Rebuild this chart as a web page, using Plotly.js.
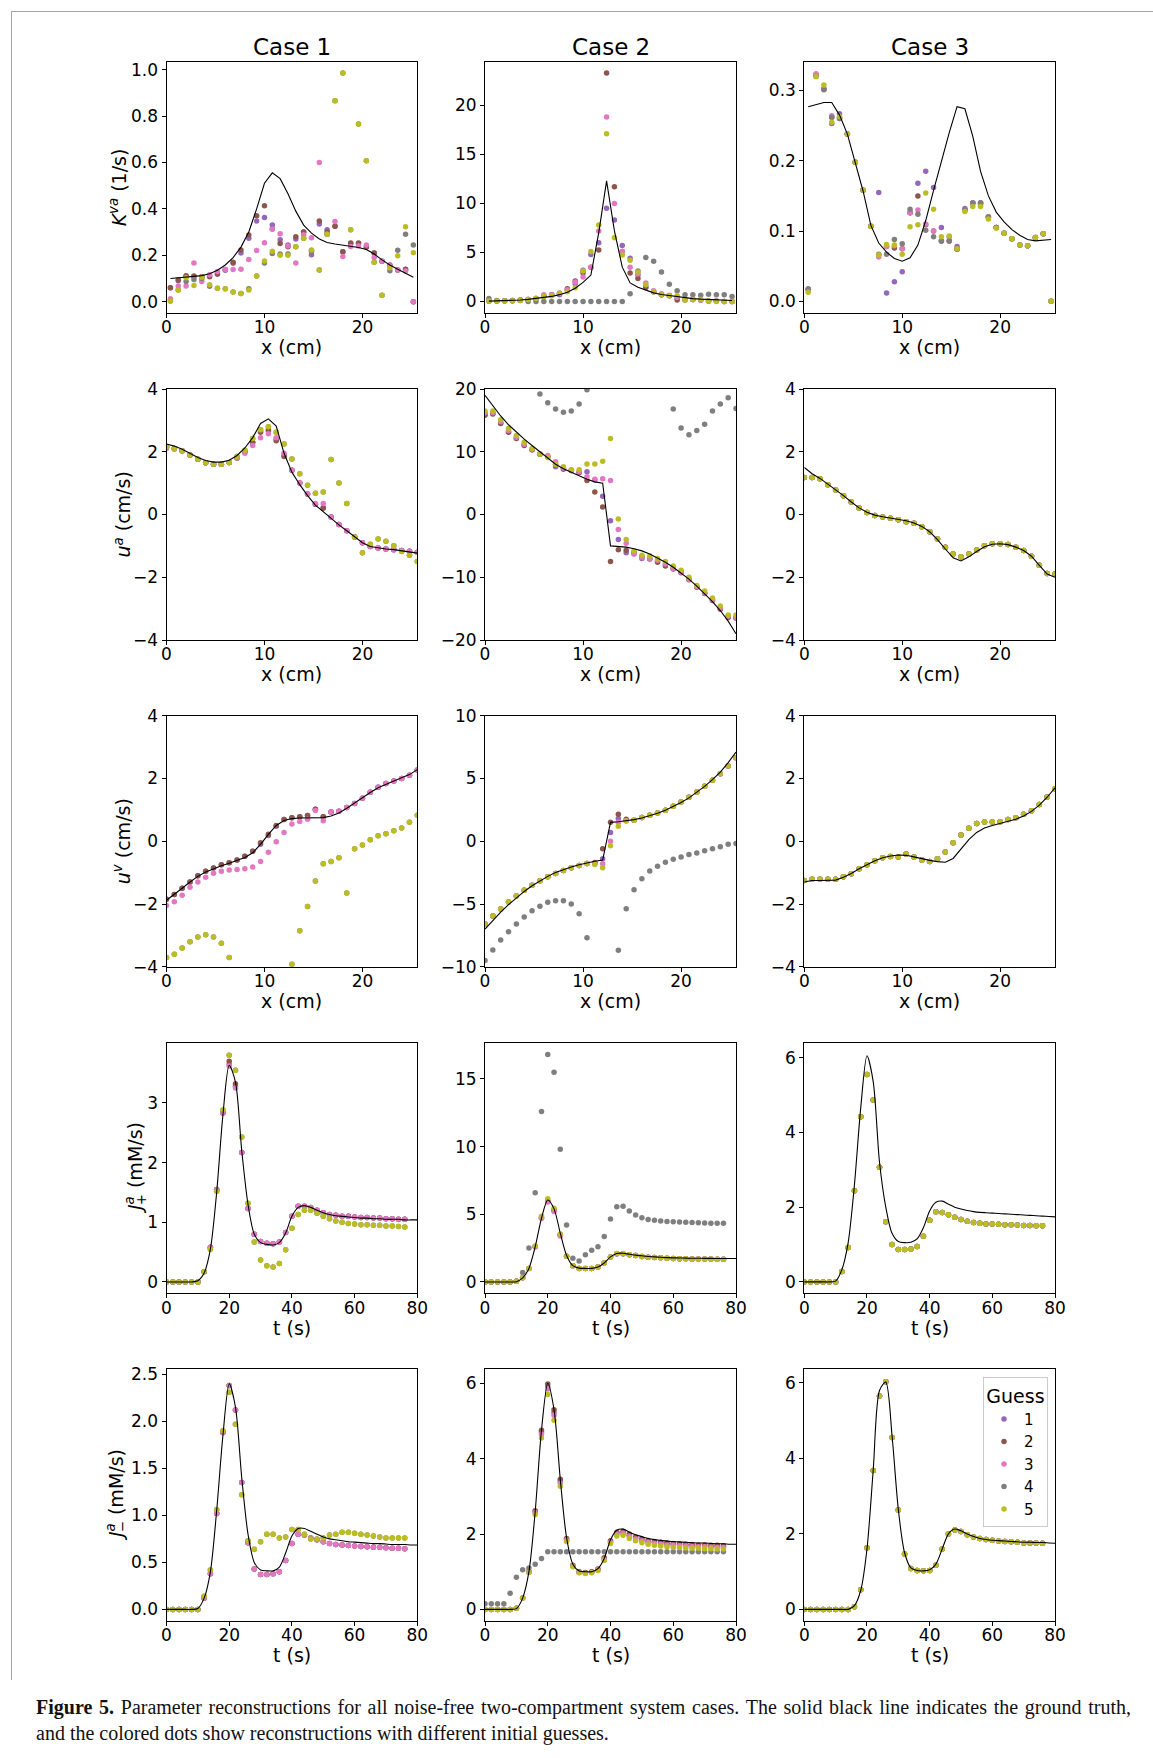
<!DOCTYPE html>
<html>
<head>
<meta charset="utf-8">
<script src="https://cdn.plot.ly/plotly-3.0.1.min.js"></script>
<style>
  html, body { margin: 0; padding: 0; background: #ffffff; }
  #wrap { position: relative; width: 1153px; height: 1758px; overflow: hidden; background: #ffffff; }
  #chart { position: absolute; left: 0; top: 0; width: 1153px; height: 1758px; }
  #frame { position: absolute; left: 11px; top: 11px; width: 1142px; height: 1668px;
           border-left: 1px solid #a6a6a6; border-top: 1px solid #a6a6a6; pointer-events: none; }
  .cap { position: absolute; left: 36px; width: 1095px; font-family: 'Liberation Serif', 'Times New Roman', serif;
         font-size: 20px; line-height: 26px; color: #111111; }
  #cap1 { top: 1694px; text-align: justify; text-align-last: justify; }
  #cap2 { top: 1720px; text-align: left; }
</style>
</head>
<body>
<div id="wrap">
  <div id="chart"></div>
  <div id="frame"></div>
  <div class="cap" id="cap1"><b>Figure 5.</b> Parameter reconstructions for all noise-free two-compartment system cases. The solid black line indicates the ground truth,</div>
  <div class="cap" id="cap2">and the colored dots show reconstructions with different initial guesses.</div>
</div>
<script>
// ---------- sample grids ----------
const xCenters = [0.4,1.2,2.0,2.8,3.6,4.4,5.2,6.0,6.8,7.6,8.4,9.2,10.0,10.8,11.6,12.4,13.2,14.0,14.8,15.6,16.4,17.2,18.0,18.8,19.6,20.4,21.2,22.0,22.8,23.6,24.4,25.2];
const xFaces = [0,0.8,1.6,2.4,3.2,4.0,4.8,5.6,6.4,7.2,8.0,8.8,9.6,10.4,11.2,12.0,12.8,13.6,14.4,15.2,16.0,16.8,17.6,18.4,19.2,20.0,20.8,21.6,22.4,23.2,24.0,24.8,25.6];
const tSamples = [0,2,4,6,8,10,12,14,16,18,20,22,24,26,28,30,32,34,36,38,40,42,44,46,48,50,52,54,56,58,60,62,64,66,68,70,72,74,76];
const tTruth = [0,2,4,6,8,10,12,14,16,18,20,22,24,26,28,30,32,34,36,38,40,42,44,46,48,50,52,54,56,58,60,62,64,66,68,70,72,74,76,78,80];

const caseTitles = ['Case 1', 'Case 2', 'Case 3'];
const guessNames = ['1', '2', '3', '4', '5'];
// the superscript is given negative letter spacing so the subscript sits beneath it
const rowLabels = [
  '<i>K</i><sup><i>va</i></sup> (1/s)',
  '<i>u</i><sup><i>a</i></sup> (cm/s)',
  '<i>u</i><sup><i>v</i></sup> (cm/s)',
  '<i>J</i><sup><span style="letter-spacing:-9px"><i>a</i></span></sup><sub>+</sub> (mM/s)',
  '<i>J</i><sup><span style="letter-spacing:-9px"><i>a</i></span></sup><sub>\u2212</sub> (mM/s)'
];
const xLabelSpace = 'x (cm)';
const xLabelTime = 't (s)';

// ---------- tick labels ----------
const xTicksSpace = [0, 10, 20];
const xTicksTime = [0, 20, 40, 60, 80];
const yTicksKva1 = [0.0, 0.2, 0.4, 0.6, 0.8, 1.0];
const yTicksKva2 = [0, 5, 10, 15, 20];
const yTicksKva3 = [0.0, 0.1, 0.2, 0.3];
const yTicksU4 = [-4, -2, 0, 2, 4];
const yTicksUa2 = [-20, -10, 0, 10, 20];
const yTicksUv2 = [-10, -5, 0, 5, 10];
const yTicksJp1 = [0, 1, 2, 3];
const yTicksJp2 = [0, 5, 10, 15];
const yTicksJ6 = [0, 2, 4, 6];
const yTicksJm1 = [0.0, 0.5, 1.0, 1.5, 2.0, 2.5];

// ---------- K^va, case 1 ----------
const kva1Truth = [0.100,0.103,0.106,0.108,0.112,0.120,0.135,0.158,0.190,0.235,0.300,0.400,0.510,0.555,0.530,0.465,0.390,0.330,0.295,0.270,0.255,0.248,0.243,0.240,0.233,0.225,0.205,0.180,0.158,0.140,0.122,0.105];
const kva1G1 = [0.060,0.090,0.108,0.108,0.106,0.112,0.118,0.135,0.165,0.210,0.273,0.347,0.363,0.330,0.267,0.244,0.270,0.300,0.202,0.335,0.310,0.325,0.215,0.250,0.250,0.235,0.210,0.174,0.155,0.136,0.138,0.000];
const kva1G2 = [0.060,0.093,0.112,0.110,0.107,0.107,0.120,0.138,0.170,0.222,0.287,0.370,0.413,0.313,0.250,0.237,0.280,0.300,0.220,0.347,0.300,0.325,0.215,0.253,0.253,0.235,0.210,0.174,0.158,0.136,0.140,0.000];
const kva1G3 = [0.012,0.067,0.067,0.166,0.087,0.116,0.130,0.138,0.138,0.140,0.182,0.220,0.254,0.313,0.293,0.240,0.166,0.288,0.275,0.600,0.290,0.345,0.194,0.238,0.240,0.244,0.190,0.174,0.155,0.136,0.132,0.000];
const kva1G4 = [0.003,0.050,0.087,0.095,0.100,0.066,0.058,0.055,0.042,0.035,0.055,0.110,0.166,0.207,0.205,0.205,0.237,0.273,0.215,0.136,0.290,0.866,0.985,0.310,0.766,0.607,0.170,0.027,0.133,0.221,0.290,0.244];
const kva1G5 = [0.003,0.050,0.103,0.070,0.105,0.073,0.058,0.055,0.042,0.035,0.050,0.110,0.175,0.217,0.200,0.200,0.237,0.273,0.222,0.136,0.290,0.866,0.985,0.310,0.766,0.607,0.170,0.027,0.146,0.198,0.323,0.211];

// ---------- K^va, case 2 ----------
const kva2Truth = [0.04,0.06,0.09,0.12,0.16,0.22,0.30,0.40,0.52,0.70,0.95,1.35,1.95,2.70,7.00,12.30,7.20,3.50,1.90,1.45,1.15,0.88,0.72,0.60,0.48,0.38,0.30,0.24,0.19,0.15,0.12,0.10];
const kva2G1 = [0.05,0.05,0.08,0.10,0.15,0.20,0.30,0.55,0.70,0.70,1.20,1.80,3.20,4.80,6.00,9.50,8.30,5.70,4.40,2.70,1.40,1.00,0.70,0.60,0.30,0.20,0.20,0.15,0.05,0.05,0.00,0.00];
const kva2G2 = [0.05,0.05,0.08,0.10,0.15,0.20,0.30,0.55,0.70,0.85,1.30,2.10,2.90,3.50,5.25,23.30,11.70,5.10,2.90,2.35,1.50,1.00,0.70,0.60,0.15,0.15,0.20,0.15,0.05,0.05,0.00,0.00];
const kva2G3 = [0.05,0.05,0.08,0.10,0.15,0.20,0.30,0.70,0.70,0.85,1.20,2.00,2.50,3.50,7.20,18.80,10.00,5.10,3.50,2.80,1.90,1.10,0.80,0.65,0.40,0.20,0.20,0.15,0.05,0.05,0.00,0.00];
const kva2G4 = [0.30,0.10,0.05,0.05,0.10,0.00,0.00,0.00,0.00,0.00,0.00,0.00,0.00,0.00,0.00,0.00,0.00,0.00,0.80,3.10,4.50,4.10,3.00,1.75,1.10,0.70,0.70,0.65,0.75,0.70,0.70,0.50];
const kva2G5 = [0.05,0.05,0.05,0.07,0.10,0.20,0.30,0.50,0.60,0.85,1.00,1.40,3.10,5.10,7.80,17.10,6.50,4.75,4.20,3.00,1.70,1.00,0.70,0.60,0.60,0.15,0.20,0.20,0.05,0.00,0.00,0.00];

// ---------- K^va, case 3 ----------
const kva3Truth = [0.277,0.280,0.283,0.283,0.265,0.238,0.198,0.157,0.108,0.083,0.070,0.061,0.057,0.062,0.080,0.115,0.158,0.200,0.240,0.277,0.274,0.235,0.185,0.150,0.127,0.113,0.102,0.094,0.088,0.086,0.087,0.088];
const kva3G1 = [0.017,0.322,0.302,0.253,0.267,0.238,0.198,0.158,0.107,0.155,0.012,0.028,0.042,0.126,0.168,0.185,0.162,0.105,0.092,0.078,0.132,0.140,0.140,0.120,0.105,0.097,0.089,0.080,0.079,0.091,0.096,0.000];
const kva3G2 = [0.017,0.322,0.302,0.262,0.260,0.238,0.198,0.158,0.107,0.066,0.078,0.076,0.075,0.126,0.150,0.109,0.100,0.086,0.086,0.074,0.130,0.140,0.140,0.120,0.105,0.097,0.089,0.080,0.079,0.091,0.096,0.000];
const kva3G3 = [0.017,0.324,0.302,0.264,0.262,0.238,0.198,0.158,0.107,0.063,0.078,0.079,0.075,0.126,0.130,0.110,0.100,0.086,0.086,0.074,0.130,0.140,0.138,0.120,0.105,0.097,0.089,0.080,0.079,0.091,0.096,0.000];
const kva3G4 = [0.018,0.320,0.301,0.262,0.260,0.238,0.198,0.158,0.107,0.067,0.067,0.088,0.082,0.131,0.124,0.101,0.092,0.086,0.086,0.074,0.130,0.140,0.140,0.120,0.105,0.097,0.089,0.080,0.079,0.091,0.096,0.000];
const kva3G5 = [0.013,0.320,0.308,0.255,0.263,0.238,0.198,0.158,0.107,0.066,0.081,0.080,0.067,0.106,0.109,0.154,0.131,0.092,0.093,0.075,0.128,0.135,0.135,0.117,0.104,0.097,0.089,0.080,0.079,0.091,0.096,0.000];

// ---------- u^a, case 1 ----------
const ua1Truth = [2.25,2.18,2.08,1.95,1.82,1.72,1.67,1.67,1.73,1.88,2.12,2.45,2.90,3.05,2.82,1.95,1.35,0.95,0.60,0.30,0.08,-0.12,-0.33,-0.52,-0.72,-0.90,-1.02,-1.07,-1.10,-1.12,-1.15,-1.18,-1.23];
const ua1G1 = [2.15,2.10,2.03,1.90,1.76,1.65,1.60,1.60,1.66,1.80,2.00,2.30,2.65,2.65,2.40,1.90,1.41,1.00,0.65,0.33,0.22,-0.08,-0.32,-0.52,-0.72,-0.90,-1.02,-1.07,-1.10,-1.12,-1.15,-1.17,-1.20];
const ua1G2 = [2.15,2.10,2.03,1.90,1.76,1.65,1.60,1.60,1.66,1.80,2.00,2.30,2.62,2.70,2.35,1.85,1.41,1.00,0.65,0.33,0.20,-0.08,-0.32,-0.52,-0.72,-0.90,-1.02,-1.07,-1.10,-1.12,-1.15,-1.17,-1.20];
const ua1G3 = [2.10,2.08,2.02,1.90,1.76,1.65,1.60,1.60,1.66,1.80,1.95,2.20,2.45,2.57,2.45,1.95,1.41,1.00,0.65,0.35,0.35,-0.08,-0.32,-0.52,-0.72,-0.90,-1.02,-1.07,-1.10,-1.12,-1.15,-1.17,-1.20];
const ua1G4 = [2.15,2.10,2.03,1.90,1.76,1.65,1.60,1.60,1.66,1.85,2.05,2.42,2.70,2.80,2.62,2.25,1.77,1.30,0.93,0.68,0.72,1.75,1.00,0.35,-0.72,-1.22,-0.95,-0.78,-0.85,-1.00,-1.18,-1.30,-1.50];
const ua1G5 = [2.15,2.10,2.03,1.90,1.76,1.65,1.60,1.60,1.66,1.85,2.05,2.42,2.70,2.80,2.62,2.25,1.77,1.30,0.93,0.68,0.72,1.75,1.00,0.35,-0.72,-1.22,-0.95,-0.78,-0.85,-1.00,-1.18,-1.30,-1.50];

// ---------- u^a, case 2 ----------
const ua2Truth = [19.0,17.3,15.7,14.3,13.1,12.0,11.0,10.0,9.0,8.0,7.3,6.7,6.1,5.6,5.2,5.0,-5.0,-5.05,-5.2,-5.45,-5.8,-6.3,-6.9,-7.6,-8.4,-9.3,-10.3,-11.4,-12.6,-13.9,-15.3,-17.0,-19.0];
const ua2G1 = [16.0,16.1,14.6,13.2,12.2,11.1,10.3,9.6,9.2,7.6,7.2,7.0,6.7,6.8,5.5,2.9,-1.0,-4.0,-6.1,-6.3,-7.0,-7.0,-7.4,-8.0,-8.6,-9.2,-10.3,-11.5,-12.5,-13.6,-15.0,-16.3,-16.5];
const ua2G2 = [15.8,16.0,14.5,13.1,12.1,11.0,10.3,9.6,9.2,8.0,7.3,7.0,6.7,5.4,3.6,1.2,-7.5,-5.6,-5.7,-6.0,-6.7,-7.1,-7.6,-8.2,-8.7,-9.3,-10.4,-11.6,-12.6,-13.7,-15.1,-16.4,-16.5];
const ua2G3 = [16.2,16.2,14.8,13.4,12.3,11.2,10.4,9.7,9.4,8.4,7.4,7.1,6.8,6.0,5.6,5.7,5.4,-2.4,-4.6,-6.2,-6.8,-7.0,-7.3,-7.9,-8.6,-9.2,-10.3,-11.5,-12.5,-13.6,-14.9,-16.2,-16.4];
const ua2G4 = [null,null,null,null,null,null,null,19.2,17.8,16.8,16.3,16.5,17.6,19.9,null,null,null,null,null,null,null,null,null,null,16.8,13.8,12.7,13.4,14.4,16.5,17.6,18.6,16.9];
const ua2G5 = [16.5,16.5,15.1,13.7,12.6,11.5,10.5,9.6,9.1,8.0,7.6,7.15,7.15,8.05,8.05,8.5,12.1,-0.7,-4.0,-5.8,-6.5,-6.6,-7.0,-7.5,-8.2,-8.9,-10.0,-11.3,-12.2,-13.3,-14.6,-16.0,-16.0];

// ---------- u^a, case 3 ----------
const ua3Truth = [1.50,1.30,1.15,0.97,0.79,0.60,0.40,0.21,0.07,-0.02,-0.07,-0.11,-0.15,-0.20,-0.27,-0.38,-0.55,-0.80,-1.10,-1.38,-1.48,-1.35,-1.18,-1.03,-0.95,-0.93,-0.96,-1.04,-1.15,-1.33,-1.62,-1.90,-2.00];
const ua3Guess = [1.18,1.18,1.14,0.95,0.78,0.60,0.40,0.21,0.065,-0.03,-0.08,-0.12,-0.17,-0.23,-0.28,-0.39,-0.55,-0.78,-1.04,-1.26,-1.35,-1.26,-1.13,-1.00,-0.93,-0.93,-0.96,-1.04,-1.15,-1.33,-1.62,-1.88,-1.90];

// ---------- u^v, case 1 ----------
const uv1Truth = [-1.88,-1.70,-1.50,-1.30,-1.12,-0.98,-0.87,-0.78,-0.70,-0.62,-0.52,-0.37,-0.10,0.22,0.50,0.66,0.72,0.74,0.74,0.74,0.75,0.80,0.90,1.05,1.22,1.38,1.55,1.70,1.82,1.92,2.02,2.12,2.28];
const uv1G1 = [-1.85,-1.70,-1.50,-1.30,-1.10,-0.96,-0.85,-0.75,-0.69,-0.60,-0.48,-0.32,-0.10,0.18,0.48,0.69,0.75,0.78,0.82,1.02,0.78,0.93,0.95,1.07,1.20,1.37,1.56,1.72,1.84,1.92,2.00,2.10,2.27];
const uv1G2 = [-1.85,-1.70,-1.50,-1.30,-1.10,-0.96,-0.85,-0.75,-0.69,-0.60,-0.48,-0.32,-0.05,0.22,0.50,0.69,0.75,0.78,0.82,1.02,0.78,0.93,0.95,1.07,1.20,1.37,1.56,1.72,1.84,1.92,2.00,2.10,2.27];
const uv1G3 = [-2.05,-1.93,-1.72,-1.47,-1.30,-1.15,-1.02,-0.96,-0.92,-0.90,-0.88,-0.82,-0.65,-0.35,-0.02,0.28,0.55,0.63,0.70,0.98,0.65,0.93,0.95,1.07,1.20,1.37,1.56,1.72,1.84,1.92,2.00,2.10,2.27];
const uv1G4 = [-3.70,-3.60,-3.40,-3.20,-3.05,-2.98,-3.05,-3.25,-3.70,null,null,null,null,null,null,null,-3.92,-2.85,-2.08,-1.27,-0.72,-0.65,-0.53,-1.65,-0.24,-0.12,0.05,0.17,0.24,0.33,0.42,0.60,0.83];
const uv1G5 = [-3.70,-3.60,-3.40,-3.20,-3.05,-2.98,-3.05,-3.25,-3.70,null,null,null,null,null,null,null,-3.92,-2.85,-2.08,-1.27,-0.72,-0.65,-0.53,-1.65,-0.24,-0.12,0.05,0.17,0.24,0.33,0.42,0.60,0.83];

// ---------- u^v, case 2 ----------
const uv2Truth = [-7.0,-6.3,-5.65,-5.05,-4.5,-4.0,-3.55,-3.15,-2.8,-2.5,-2.25,-2.05,-1.87,-1.72,-1.6,-1.5,1.5,1.55,1.62,1.72,1.85,2.02,2.22,2.46,2.75,3.08,3.45,3.88,4.36,4.9,5.5,6.25,7.1];
const uv2G1 = [-6.6,-5.95,-5.4,-4.85,-4.37,-3.9,-3.5,-3.15,-2.83,-2.57,-2.33,-2.12,-1.93,-1.77,-1.75,-1.4,0.7,1.8,1.65,1.67,1.88,2.07,2.25,2.46,2.78,3.13,3.5,3.92,4.37,4.85,5.38,5.99,6.65];
const uv2G2 = [-6.6,-5.95,-5.4,-4.85,-4.37,-3.9,-3.5,-3.15,-2.83,-2.57,-2.33,-2.12,-1.93,-1.77,-1.7,-0.6,1.5,2.15,1.75,1.67,1.88,2.07,2.25,2.46,2.78,3.13,3.5,3.92,4.37,4.85,5.38,5.99,6.65];
const uv2G3 = [-6.6,-5.95,-5.4,-4.85,-4.37,-3.9,-3.5,-3.15,-2.83,-2.57,-2.33,-2.12,-1.93,-1.77,-1.8,-1.8,0.0,1.5,1.62,1.67,1.88,2.07,2.25,2.46,2.78,3.13,3.5,3.92,4.37,4.85,5.38,5.99,6.65];
const uv2G4 = [-9.5,-8.66,-7.87,-7.2,-6.6,-6.04,-5.54,-5.17,-4.87,-4.74,-4.74,-5.0,-5.77,-7.68,null,null,null,-8.69,-5.38,-3.87,-2.99,-2.38,-1.99,-1.67,-1.43,-1.25,-1.06,-0.93,-0.77,-0.61,-0.45,-0.24,-0.19];
const uv2G5 = [-6.6,-5.95,-5.4,-4.85,-4.37,-3.9,-3.5,-3.15,-2.83,-2.57,-2.33,-2.12,-1.93,-1.77,-1.85,-2.12,-0.37,1.2,1.6,1.67,1.88,2.07,2.25,2.46,2.78,3.13,3.5,3.92,4.37,4.85,5.38,5.99,6.65];

// ---------- u^v, case 3 ----------
const uv3Truth = [-1.30,-1.25,-1.25,-1.25,-1.24,-1.15,-1.03,-0.88,-0.74,-0.62,-0.53,-0.47,-0.44,-0.45,-0.50,-0.56,-0.61,-0.65,-0.67,-0.55,-0.25,0.05,0.28,0.42,0.50,0.56,0.62,0.70,0.80,0.95,1.15,1.40,1.70];
const uv3Guess = [-1.25,-1.21,-1.21,-1.21,-1.21,-1.13,-1.04,-0.88,-0.75,-0.62,-0.53,-0.49,-0.50,-0.41,-0.50,-0.60,-0.65,-0.56,-0.34,-0.05,0.20,0.41,0.56,0.61,0.61,0.62,0.69,0.75,0.86,0.97,1.17,1.41,1.67];

// ---------- J^a_+, case 1 ----------
const jp1Truth = [0,0,0,0,0,0.02,0.15,0.55,1.50,2.80,3.63,3.35,2.20,1.30,0.80,0.66,0.63,0.62,0.66,0.82,1.10,1.25,1.28,1.25,1.20,1.16,1.13,1.11,1.10,1.09,1.08,1.07,1.07,1.06,1.06,1.05,1.05,1.05,1.04,1.04,1.04];
const jp1G1 = [0,0,0,0,0,0,0.17,0.58,1.55,2.83,3.65,3.28,2.17,1.23,0.80,0.68,0.65,0.64,0.67,0.83,1.10,1.27,1.27,1.25,1.20,1.16,1.13,1.12,1.10,1.10,1.09,1.08,1.08,1.07,1.07,1.06,1.06,1.05,1.05];
const jp1G2 = [0,0,0,0,0,0,0.17,0.58,1.55,2.83,3.70,3.32,2.17,1.23,0.80,0.68,0.65,0.64,0.67,0.83,1.10,1.27,1.27,1.25,1.20,1.16,1.13,1.12,1.10,1.10,1.09,1.08,1.08,1.07,1.07,1.06,1.06,1.05,1.05];
const jp1G3 = [0,0,0,0,0,0,0.17,0.58,1.55,2.83,3.62,3.25,2.17,1.23,0.80,0.68,0.65,0.64,0.67,0.83,1.10,1.27,1.27,1.25,1.20,1.16,1.13,1.12,1.10,1.10,1.09,1.08,1.08,1.07,1.07,1.06,1.06,1.05,1.05];
const jp1G4 = [0,0,0,0,0,0,0.17,0.55,1.52,2.88,3.80,3.55,2.43,1.32,0.67,0.37,0.27,0.25,0.31,0.54,0.90,1.13,1.20,1.20,1.15,1.10,1.06,1.02,1.00,0.98,0.97,0.96,0.96,0.95,0.95,0.94,0.94,0.93,0.92];
const jp1G5 = [0,0,0,0,0,0,0.17,0.55,1.52,2.88,3.80,3.55,2.43,1.32,0.67,0.37,0.27,0.25,0.31,0.54,0.90,1.13,1.20,1.20,1.15,1.10,1.06,1.02,1.00,0.98,0.97,0.96,0.96,0.95,0.95,0.94,0.94,0.93,0.92];

// ---------- J^a_+, case 2 ----------
const jp2Truth = [0,0,0,0,0,0.02,0.30,1.00,2.60,4.70,6.05,5.40,3.60,1.95,1.20,1.02,1.00,1.00,1.10,1.40,1.85,2.10,2.12,2.05,1.98,1.93,1.88,1.85,1.82,1.80,1.78,1.77,1.76,1.75,1.75,1.74,1.74,1.73,1.73,1.73,1.73];
const jp2G1 = [0,0,0,0,0,0.05,0.30,1.00,2.62,4.75,6.00,5.35,3.50,1.90,1.20,1.00,1.00,1.00,1.10,1.40,1.85,2.09,2.09,2.00,1.95,1.88,1.83,1.80,1.78,1.75,1.73,1.72,1.71,1.70,1.70,1.69,1.69,1.68,1.68];
const jp2G2 = [0,0,0,0,0,0.05,0.30,1.00,2.60,4.72,5.95,5.30,3.45,1.90,1.20,1.00,1.00,1.00,1.10,1.40,1.85,2.08,2.08,2.00,1.95,1.88,1.83,1.80,1.78,1.75,1.73,1.72,1.71,1.70,1.70,1.69,1.69,1.68,1.68];
const jp2G3 = [0,0,0,0,0,0.05,0.30,1.00,2.60,4.70,5.90,5.20,3.40,1.90,1.20,1.00,1.00,1.00,1.10,1.40,1.85,2.08,2.08,2.00,1.95,1.88,1.83,1.80,1.78,1.75,1.73,1.72,1.71,1.70,1.70,1.69,1.69,1.68,1.68];
const jp2G4 = [0,0,0,0,0,0.05,0.70,2.50,6.60,12.60,16.80,15.50,9.80,4.20,1.75,1.55,2.00,2.35,2.60,3.35,4.65,5.55,5.60,5.25,4.95,4.75,4.62,4.55,4.50,4.47,4.45,4.43,4.42,4.40,4.38,4.35,4.33,4.33,4.33];
const jp2G5 = [0,0,0,0,0,0.05,0.30,1.00,2.65,4.85,6.15,5.45,3.55,1.90,1.20,1.00,1.00,1.00,1.10,1.40,1.85,2.10,2.10,2.00,1.95,1.88,1.83,1.80,1.78,1.75,1.73,1.72,1.71,1.70,1.70,1.69,1.69,1.68,1.68];

// ---------- J^a_+, case 3 ----------
const jp3Truth = [0,0,0,0,0,0.02,0.33,1.05,2.60,4.65,6.05,5.35,3.20,2.00,1.30,1.08,1.05,1.06,1.15,1.45,1.90,2.13,2.16,2.08,2.00,1.95,1.91,1.88,1.86,1.85,1.84,1.83,1.82,1.81,1.80,1.79,1.78,1.77,1.76,1.75,1.74];
const jp3Guess = [0,0,0,0,0,0,0.28,0.92,2.44,4.42,5.55,4.87,3.07,1.61,1.00,0.87,0.87,0.88,0.95,1.22,1.65,1.88,1.86,1.80,1.73,1.67,1.62,1.59,1.57,1.55,1.55,1.54,1.53,1.53,1.52,1.51,1.51,1.50,1.50];

// ---------- J^a_-, case 1 ----------
const jm1Truth = [0,0,0,0,0,0.01,0.12,0.40,1.05,1.85,2.40,2.15,1.40,0.80,0.50,0.42,0.41,0.41,0.45,0.60,0.78,0.86,0.86,0.83,0.80,0.77,0.75,0.74,0.73,0.72,0.715,0.71,0.705,0.70,0.70,0.695,0.69,0.69,0.69,0.685,0.685];
const jm1G1 = [0,0,0,0,0,0,0.12,0.38,1.02,1.88,2.38,2.12,1.35,0.71,0.43,0.37,0.37,0.38,0.40,0.52,0.70,0.80,0.79,0.76,0.74,0.72,0.70,0.69,0.685,0.68,0.675,0.67,0.665,0.66,0.66,0.655,0.65,0.65,0.645];
const jm1G2 = [0,0,0,0,0,0,0.12,0.38,1.02,1.88,2.38,2.12,1.35,0.71,0.43,0.37,0.37,0.38,0.40,0.52,0.70,0.80,0.79,0.76,0.74,0.72,0.70,0.69,0.685,0.68,0.675,0.67,0.665,0.66,0.66,0.655,0.65,0.65,0.645];
const jm1G3 = [0,0,0,0,0,0,0.12,0.38,1.02,1.88,2.38,2.12,1.35,0.71,0.43,0.37,0.37,0.38,0.40,0.52,0.70,0.80,0.79,0.76,0.74,0.72,0.70,0.69,0.685,0.68,0.675,0.67,0.665,0.66,0.66,0.655,0.65,0.65,0.645];
const jm1G4 = [0,0,0,0,0,0,0.14,0.42,1.06,1.90,2.31,1.97,1.22,0.73,0.64,0.72,0.80,0.80,0.76,0.77,0.85,0.85,0.80,0.75,0.75,0.76,0.79,0.80,0.82,0.82,0.81,0.80,0.79,0.78,0.77,0.76,0.76,0.76,0.76];
const jm1G5 = [0,0,0,0,0,0,0.14,0.42,1.06,1.90,2.31,1.97,1.22,0.73,0.64,0.72,0.80,0.80,0.76,0.77,0.85,0.85,0.80,0.75,0.75,0.76,0.79,0.80,0.82,0.82,0.81,0.80,0.79,0.78,0.77,0.76,0.76,0.76,0.76];

// ---------- J^a_-, case 2 ----------
const jm2Truth = [0,0,0,0,0,0.02,0.30,1.00,2.60,4.75,6.00,5.30,3.45,1.90,1.20,1.02,1.00,1.00,1.08,1.35,1.85,2.10,2.13,2.05,1.98,1.93,1.88,1.85,1.83,1.81,1.80,1.79,1.78,1.77,1.76,1.76,1.75,1.74,1.74,1.73,1.73];
const jm2G1 = [0,0,0,0,0,0.03,0.30,1.00,2.60,4.70,5.90,5.22,3.40,1.86,1.16,0.99,0.97,0.99,1.06,1.35,1.80,2.03,2.05,1.97,1.90,1.85,1.81,1.78,1.76,1.74,1.73,1.72,1.71,1.70,1.69,1.69,1.68,1.68,1.67];
const jm2G2 = [0,0,0,0,0,0.03,0.30,1.00,2.62,4.75,5.98,5.30,3.45,1.88,1.17,1.00,0.98,1.00,1.07,1.37,1.82,2.05,2.07,2.00,1.92,1.87,1.83,1.80,1.78,1.76,1.75,1.74,1.73,1.72,1.71,1.71,1.70,1.70,1.69];
const jm2G3 = [0,0,0,0,0,0.03,0.30,0.99,2.57,4.65,5.85,5.15,3.35,1.84,1.15,0.98,0.96,0.98,1.05,1.33,1.78,2.00,2.02,1.94,1.87,1.82,1.78,1.75,1.73,1.71,1.70,1.69,1.68,1.67,1.66,1.66,1.65,1.65,1.64];
const jm2G4 = [0.15,0.15,0.15,0.15,0.43,0.85,1.05,1.10,1.20,1.35,1.53,1.53,1.53,1.53,1.53,1.53,1.53,1.53,1.53,1.53,1.53,1.53,1.53,1.53,1.53,1.53,1.53,1.53,1.53,1.53,1.53,1.53,1.53,1.53,1.53,1.53,1.53,1.53,1.53];
const jm2G5 = [0,0,0,0,0,0.03,0.30,0.98,2.52,4.55,5.70,5.02,3.27,1.80,1.13,0.97,0.95,0.97,1.03,1.30,1.75,1.95,1.97,1.88,1.82,1.77,1.73,1.70,1.68,1.66,1.65,1.64,1.63,1.62,1.62,1.61,1.61,1.60,1.60];

// ---------- J^a_-, case 3 ----------
const jm3Truth = [0,0,0,0,0,0,0,0,0.10,0.50,1.60,3.70,5.80,6.02,4.60,2.65,1.50,1.10,1.03,1.02,1.05,1.20,1.60,2.00,2.13,2.08,2.00,1.93,1.88,1.85,1.83,1.82,1.81,1.80,1.79,1.78,1.78,1.77,1.77,1.76,1.75];
const jm3Guess = [0,0,0,0,0,0,0,0,0.07,0.52,1.63,3.68,5.65,6.03,4.55,2.63,1.47,1.08,1.03,1.02,1.03,1.17,1.60,2.00,2.10,2.06,1.98,1.92,1.88,1.85,1.83,1.81,1.80,1.79,1.78,1.76,1.76,1.76,1.75];

// ---------- figure construction ----------
const W = 1153, H = 1758;
const guessColors = ['#9467bd', '#8c564b', '#e377c2', '#7f7f7f', '#bcbd22'];
const colPx = [[166.5, 417.3], [485, 736], [804.3, 1055]];
const rowPx = [[61.7, 313], [389, 640], [715.6, 966.8], [1042.7, 1293.3], [1369.3, 1620.7]];
const yLabelCenterPx = [118, 122, 122, 136, 117];

const panels = [
  {r:0, c:0, gx:xCenters, lx:xCenters, truth:kva1Truth, guesses:[kva1G1,kva1G2,kva1G3,kva1G4,kva1G5], yr:[-0.049,1.034], yt:yTicksKva1, fmt:'.1f', time:false},
  {r:0, c:1, gx:xCenters, lx:xCenters, truth:kva2Truth, guesses:[kva2G1,kva2G2,kva2G3,kva2G4,kva2G5], yr:[-1.17,24.45], yt:yTicksKva2, fmt:'', time:false},
  {r:0, c:2, gx:xCenters, lx:xCenters, truth:kva3Truth, guesses:[kva3G1,kva3G2,kva3G3,kva3G4,kva3G5], yr:[-0.0166,0.341], yt:yTicksKva3, fmt:'.1f', time:false},
  {r:1, c:0, gx:xFaces, lx:xFaces, truth:ua1Truth, guesses:[ua1G1,ua1G2,ua1G3,ua1G4,ua1G5], yr:[-4,4], yt:yTicksU4, fmt:'', time:false},
  {r:1, c:1, gx:xFaces, lx:xFaces, truth:ua2Truth, guesses:[ua2G1,ua2G2,ua2G3,ua2G4,ua2G5], yr:[-20,20], yt:yTicksUa2, fmt:'', time:false},
  {r:1, c:2, gx:xFaces, lx:xFaces, truth:ua3Truth, guesses:[ua3Guess,ua3Guess,ua3Guess,ua3Guess,ua3Guess], yr:[-4,4], yt:yTicksU4, fmt:'', time:false},
  {r:2, c:0, gx:xFaces, lx:xFaces, truth:uv1Truth, guesses:[uv1G1,uv1G2,uv1G3,uv1G4,uv1G5], yr:[-4,4], yt:yTicksU4, fmt:'', time:false},
  {r:2, c:1, gx:xFaces, lx:xFaces, truth:uv2Truth, guesses:[uv2G1,uv2G2,uv2G3,uv2G4,uv2G5], yr:[-10,10], yt:yTicksUv2, fmt:'', time:false},
  {r:2, c:2, gx:xFaces, lx:xFaces, truth:uv3Truth, guesses:[uv3Guess,uv3Guess,uv3Guess,uv3Guess,uv3Guess], yr:[-4,4], yt:yTicksU4, fmt:'', time:false},
  {r:3, c:0, gx:tSamples, lx:tTruth, truth:jp1Truth, guesses:[jp1G1,jp1G2,jp1G3,jp1G4,jp1G5], yr:[-0.19,4.01], yt:yTicksJp1, fmt:'', time:true},
  {r:3, c:1, gx:tSamples, lx:tTruth, truth:jp2Truth, guesses:[jp2G1,jp2G2,jp2G3,jp2G4,jp2G5], yr:[-0.84,17.68], yt:yTicksJp2, fmt:'', time:true},
  {r:3, c:2, gx:tSamples, lx:tTruth, truth:jp3Truth, guesses:[jp3Guess,jp3Guess,jp3Guess,jp3Guess,jp3Guess], yr:[-0.305,6.4], yt:yTicksJ6, fmt:'', time:true},
  {r:4, c:0, gx:tSamples, lx:tTruth, truth:jm1Truth, guesses:[jm1G1,jm1G2,jm1G3,jm1G4,jm1G5], yr:[-0.12,2.553], yt:yTicksJm1, fmt:'.1f', time:true},
  {r:4, c:1, gx:tSamples, lx:tTruth, truth:jm2Truth, guesses:[jm2G1,jm2G2,jm2G3,jm2G4,jm2G5], yr:[-0.3,6.37], yt:yTicksJ6, fmt:'', time:true},
  {r:4, c:2, gx:tSamples, lx:tTruth, truth:jm3Truth, guesses:[jm3Guess,jm3Guess,jm3Guess,jm3Guess,jm3Guess], yr:[-0.3,6.36], yt:yTicksJ6, fmt:'', time:true}
];

const FONT = 'DejaVu Sans, Verdana, sans-serif';
const traces = [];
const layout = {
  width: W, height: H,
  margin: {l: 0, r: 0, t: 0, b: 0},
  paper_bgcolor: '#ffffff', plot_bgcolor: '#ffffff',
  font: {family: FONT, size: 17, color: '#000000'},
  showlegend: true,
  legend: {
    x: 1048 / W, xanchor: 'right', y: 1 - 1377 / H, yanchor: 'top',
    title: {text: 'Guess', font: {size: 19, family: FONT}, side: 'top center'},
    font: {size: 15, family: FONT},
    bgcolor: 'rgba(255,255,255,0.85)', bordercolor: '#cccccc', borderwidth: 1,
    itemwidth: 30, traceorder: 'normal'
  },
  annotations: []
};

function axisBase() {
  return {
    showline: true, linecolor: '#000000', linewidth: 1, mirror: true,
    ticks: 'outside', ticklen: 4, tickwidth: 1, tickcolor: '#000000',
    showgrid: false, zeroline: false, fixedrange: true,
    tickfont: {family: FONT, size: 17, color: '#000000'}
  };
}

panels.forEach((p, i) => {
  const n = i + 1;
  const sfx = n === 1 ? '' : String(n);
  const [xl, xr] = colPx[p.c];
  const [yt, yb] = rowPx[p.r];

  const xa = axisBase();
  xa.domain = [xl / W, xr / W];
  xa.anchor = 'y' + sfx;
  xa.range = p.time ? [0, 80] : [0, 25.6];
  xa.tickmode = 'array';
  xa.tickvals = p.time ? xTicksTime : xTicksSpace;
  xa.ticklabelstandoff = -5;
  layout['xaxis' + sfx] = xa;

  const ya = axisBase();
  ya.domain = [1 - yb / H, 1 - yt / H];
  ya.anchor = 'x' + sfx;
  ya.range = p.yr;
  ya.tickmode = 'array';
  ya.tickvals = p.yt;
  if (p.fmt) ya.tickformat = p.fmt;
  layout['yaxis' + sfx] = ya;

  p.guesses.forEach((g, k) => {
    traces.push({
      type: 'scatter', mode: 'markers',
      x: p.gx, y: g,
      xaxis: 'x' + sfx, yaxis: 'y' + sfx,
      name: guessNames[k],
      marker: {color: guessColors[k], size: 5.5, line: {width: 0}},
      showlegend: n === 15,
      hoverinfo: 'skip'
    });
  });
  traces.push({
    type: 'scatter', mode: 'lines',
    x: p.lx, y: p.truth,
    xaxis: 'x' + sfx, yaxis: 'y' + sfx,
    line: {color: '#000000', width: 1.1, shape: p.time ? 'spline' : 'linear', smoothing: 0.8},
    showlegend: false, hoverinfo: 'skip'
  });

  // axis label under each panel
  layout.annotations.push({
    xref: 'paper', yref: 'paper',
    x: (xl + xr) / 2 / W, y: 1 - (yb + 34.5) / H,
    xanchor: 'center', yanchor: 'middle', showarrow: false,
    text: p.time ? xLabelTime : xLabelSpace,
    font: {family: FONT, size: 19, color: '#000000'}
  });
});

// column headings
caseTitles.forEach((t, c) => {
  const [xl, xr] = colPx[c];
  layout.annotations.push({
    xref: 'paper', yref: 'paper',
    x: (xl + xr) / 2 / W, y: 1 - 47 / H,
    xanchor: 'center', yanchor: 'middle', showarrow: false,
    text: t, font: {family: FONT, size: 23, color: '#000000'}
  });
});

// row quantity labels
rowLabels.forEach((t, r) => {
  const [yt, yb] = rowPx[r];
  layout.annotations.push({
    xref: 'paper', yref: 'paper',
    x: yLabelCenterPx[r] / W, y: 1 - (yt + yb) / 2 / H,
    xanchor: 'center', yanchor: 'middle', showarrow: false, textangle: -90,
    text: t, font: {family: FONT, size: 19, color: '#000000'}
  });
});

Plotly.newPlot('chart', traces, layout, {displayModeBar: false, staticPlot: true});
</script>
</body>
</html>
